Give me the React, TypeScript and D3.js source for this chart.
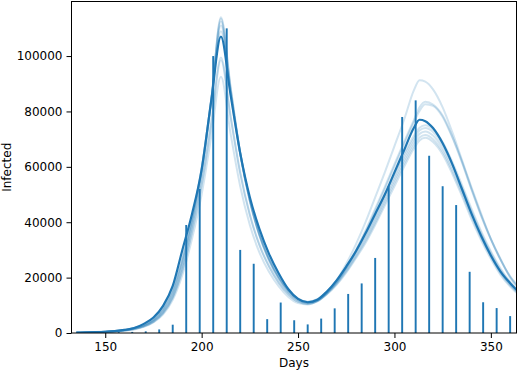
import { useEffect, useRef } from 'react';
import * as d3 from 'd3';

// sample days shared by all model runs
const days = [
  135, 140, 145, 150, 155, 160, 165, 170, 175, 180, 185, 190, 195, 200, 205, 210,
  215, 220, 225, 230, 235, 240, 245, 250, 255, 260, 265, 270, 275, 280, 285, 290,
  295, 300, 305, 310, 313, 316, 320, 325, 330, 335, 340, 345, 350, 355, 360, 365,
];

// best fit run (dark line)
const mainRun = [
  120, 200, 300, 450, 700, 1100, 1800, 3300, 5600, 9800, 17000, 30000, 43000, 59000, 84000, 107000,
  86000, 65000, 49000, 37500, 28500, 21500, 15800, 12300, 11100, 12000, 15000, 19000, 24000, 29500, 36000, 43000,
  50000, 58000, 66000, 74000, 77000, 76500, 74000, 68500, 61000, 52000, 43000, 35000, 28000, 22200, 18000, 14500,
];

// sampled runs (light lines)
const run1 = [
  100, 160, 250, 400, 600, 950, 1500, 2500, 4300, 7600, 13500, 24000, 38500, 57000, 83000, 114000,
  89000, 65000, 47500, 35000, 26000, 19500, 14800, 11800, 10800, 11600, 14000, 17400, 21800, 27000, 32500, 39000,
  46000, 53000, 60000, 66500, 69500, 70500, 69000, 64500, 57500, 49500, 41000, 33500, 26800, 21000, 16800, 13500,
];
const run2 = [
  110, 170, 270, 420, 640, 1000, 1600, 2650, 4500, 8000, 14200, 25000, 39500, 58000, 84000, 113500,
  88500, 65000, 47800, 35300, 26300, 19700, 15000, 12000, 10900, 11700, 14200, 17700, 22200, 27500, 33200, 39800,
  47000, 54200, 61200, 67600, 70600, 71500, 70000, 65500, 58500, 50500, 42000, 34300, 27500, 21600, 17200, 13800,
];
const run3 = [
  120, 180, 290, 450, 680, 1050, 1700, 2800, 4700, 8400, 14800, 26000, 40500, 59000, 84500, 112500,
  88000, 65000, 48000, 35500, 26600, 20000, 15200, 12100, 11000, 11900, 14500, 18000, 22700, 28100, 34000, 40700,
  48000, 55300, 62400, 68800, 71900, 72800, 71300, 66700, 59600, 51500, 43000, 35100, 28200, 22200, 17600, 14100,
];
const run4 = [
  130, 190, 300, 470, 700, 1100, 1750, 2900, 4900, 8700, 15300, 26500, 41000, 59500, 84500, 111000,
  87500, 64800, 48000, 35700, 26800, 20200, 15400, 12300, 11200, 12100, 14800, 18400, 23200, 28800, 34900, 41700,
  49000, 56500, 63600, 70000, 73100, 74000, 72600, 68000, 60800, 52600, 44000, 36000, 29000, 22800, 18100, 14500,
];
const run5 = [
  140, 200, 320, 500, 740, 1150, 1850, 3000, 5100, 9000, 15800, 27000, 41500, 59500, 84000, 109000,
  86500, 64300, 47800, 35600, 26800, 20300, 15500, 12400, 11300, 12200, 15000, 18800, 23700, 29400, 35600, 42500,
  50000, 57500, 64700, 71100, 74100, 75000, 73600, 69000, 61800, 53500, 44800, 36700, 29500, 23300, 18500, 14800,
];
const run6 = [
  100, 150, 240, 380, 580, 900, 1450, 2400, 4100, 7300, 13000, 23000, 37000, 54000, 76000, 99500,
  78500, 58000, 42800, 31800, 24000, 18200, 14000, 11300, 10500, 11500, 14400, 18500, 23800, 30000, 37000, 44800,
  52800, 61000, 69000, 76800, 81500, 83500, 82500, 78500, 71000, 62000, 52000, 42500, 34000, 26800, 20000, 15800,
];
const run7 = [
  95, 145, 230, 370, 560, 870, 1400, 2350, 4000, 7100, 12700, 22500, 36300, 53300, 75200, 98500,
  77800, 57600, 42500, 31600, 23900, 18100, 14000, 11300, 10500, 11400, 14200, 18200, 23400, 29500, 36400, 44100,
  52000, 60200, 68200, 76000, 80200, 82600, 82000, 78000, 70600, 61600, 51700, 42200, 33800, 26500, 20300, 15900,
];
const run8 = [
  80, 130, 200, 330, 500, 800, 1300, 2200, 3800, 6700, 12000, 21000, 34000, 50000, 71000, 92500,
  72000, 53000, 39000, 29000, 22000, 16800, 13000, 10800, 10300, 11600, 14500, 19000, 25000, 32000, 40000, 49000,
  58000, 67500, 77000, 87500, 91300, 90800, 88000, 81500, 72500, 62500, 52500, 43000, 34000, 26500, 20500, 16300,
];
const sampleRuns = [run1, run2, run3, run4, run5, run6, run7, run8];

// observed weekly counts (bars)
const barDays = [
  157, 164, 171, 178, 185, 192, 199, 206, 213, 220, 227, 234, 241, 248, 255,
  262, 269, 276, 283, 290, 297, 304, 311, 318, 325, 332, 339, 346, 353, 360,
];
const barValues = [
  300, 400, 600, 1300, 3000, 39000, 52000, 100000, 110000, 30000, 25000, 5000, 11000, 4600, 3100,
  5200, 8900, 14100, 17900, 27100, 53000, 78000, 84000, 64000, 53000, 46200, 22100, 11100, 9000, 6100,
];

const xTicks = [150, 200, 250, 300, 350];
const yTicks = [0, 20000, 40000, 60000, 80000, 100000];

const W = 518;
const H = 372;
const left = 71.5;
const right = 516.5;
const top = 1.5;
const bottom = 333;
const blue = '#1f77b4';
const font = 'DejaVu Sans, sans-serif';

export default function App() {
  const xAxisRef = useRef<SVGGElement>(null);
  const yAxisRef = useRef<SVGGElement>(null);

  const x = d3.scaleLinear().domain([132.5, 363.3]).range([left, right]);
  const y = d3.scaleLinear().domain([0, 119700]).range([bottom, top]);

  const line = d3
    .line<number>()
    .x((_, i) => x(days[i]))
    .y((d) => y(d))
    .curve(d3.curveMonotoneX);

  useEffect(() => {
    const xa = d3.select(xAxisRef.current);
    xa.call(d3.axisBottom(x).tickValues(xTicks).tickSize(5).tickPadding(4).tickFormat(d3.format('d')));
    const ya = d3.select(yAxisRef.current);
    ya.call(d3.axisLeft(y).tickValues(yTicks).tickSize(5).tickPadding(4).tickFormat(d3.format('d')));
    [xa, ya].forEach((a) => {
      a.select('.domain').remove();
      a.selectAll('text').attr('font-family', font).attr('font-size', 12).attr('fill', '#000');
      a.selectAll('line').attr('stroke', '#000');
    });
  }, []);

  return (
    <svg width={W} height={H} style={{ position: 'absolute', left: 0, top: 0, background: '#fff' }}>
      <defs>
        <clipPath id="plot">
          <rect x={left} y={top} width={right - left} height={bottom - top} />
        </clipPath>
      </defs>
      <g clipPath="url(#plot)">
        {sampleRuns.map((r, i) => (
          <path key={i} d={line(r) || ''} fill="none" stroke={blue} strokeOpacity={0.2} strokeWidth={2} />
        ))}
        {barDays.map((d, i) => (
          <rect
            key={d}
            x={x(d - 0.5)}
            width={x(d + 0.5) - x(d - 0.5)}
            y={y(barValues[i])}
            height={y(0) - y(barValues[i])}
            fill={blue}
          />
        ))}
        <path d={line(mainRun) || ''} fill="none" stroke={blue} strokeWidth={2.2} />
      </g>
      <rect x={left} y={top} width={right - left} height={bottom - top} fill="none" stroke="#000" strokeWidth={1} />
      <g ref={xAxisRef} transform={`translate(0,${bottom})`} />
      <g ref={yAxisRef} transform={`translate(${left},0)`} />
      <text x={(left + right) / 2} y={367} textAnchor="middle" fontFamily={font} fontSize={12}>
        Days
      </text>
      <text transform={`translate(10.5,${(top + bottom) / 2}) rotate(-90)`} textAnchor="middle" fontFamily={font} fontSize={12}>
        Infected
      </text>
    </svg>
  );
}
